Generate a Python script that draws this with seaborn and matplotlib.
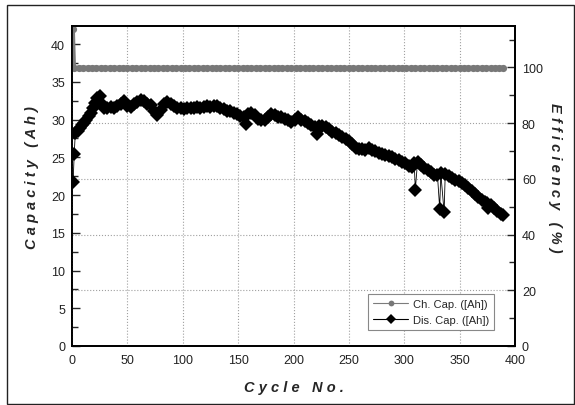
import matplotlib
matplotlib.use("Agg")
import matplotlib.pyplot as plt
from matplotlib.ticker import MultipleLocator
from matplotlib.patches import Rectangle
import seaborn as sns
import pandas as pd

# ---------------- data ----------------
dis_cycles = [1, 2, 3, 5, 7, 9, 11, 13, 15, 17, 19, 21, 23, 25, 27, 29, 32, 35, 38, 41,
              44, 47, 50, 53, 56, 59, 62, 65, 68, 71, 74, 77, 80, 83, 86, 89, 92, 95, 98, 101,
              104, 107, 110, 113, 116, 119, 122, 125, 128, 131, 134, 137, 140, 143, 146, 149, 152, 155, 157, 159,
              162, 165, 168, 171, 174, 177, 180, 183, 186, 189, 192, 195, 198, 201, 204, 207, 210, 213, 216, 219,
              221, 223, 226, 229, 232, 235, 238, 241, 244, 247, 250, 253, 256, 259, 262, 265, 268, 271, 274, 277,
              280, 283, 286, 289, 292, 295, 298, 301, 304, 307, 309, 310, 312, 315, 318, 321, 324, 327, 330, 332,
              333, 336, 337, 340, 343, 346, 349, 352, 355, 358, 361, 364, 367, 370, 373, 375, 376, 378, 381, 384,
              387, 389]
dis_cap = [21.7, 25.5, 28.2, 28.5, 28.9, 29.3, 29.6, 30.0, 30.5, 30.9, 31.5, 32.2, 32.8, 33.1, 32.0, 31.6, 31.5, 31.7, 31.5, 31.8,
           32.1, 32.4, 31.8, 31.7, 32.0, 32.3, 32.6, 32.4, 32.0, 31.9, 31.1, 30.6, 31.3, 32.0, 32.3, 32.0, 31.8, 31.6, 31.5, 31.4,
           31.5, 31.6, 31.6, 31.7, 31.6, 31.7, 31.8, 31.7, 31.8, 31.8, 31.6, 31.4, 31.2, 31.1, 30.9, 30.7, 30.5, 30.4, 29.4, 30.7,
           30.9, 30.6, 30.1, 29.9, 29.9, 30.3, 30.8, 30.6, 30.4, 30.3, 30.1, 29.9, 29.7, 29.9, 30.3, 30.0, 29.8, 29.6, 29.3, 29.0,
           28.1, 29.2, 29.2, 29.0, 28.7, 28.4, 28.2, 27.9, 27.7, 27.4, 27.1, 26.7, 26.3, 26.1, 26.1, 26.0, 26.2, 26.0, 25.8, 25.6,
           25.5, 25.3, 25.2, 25.0, 24.8, 24.6, 24.4, 24.2, 23.8, 23.7, 24.2, 20.7, 24.4, 24.0, 23.6, 23.3, 23.1, 22.7, 22.6, 18.2,
           22.9, 17.7, 22.8, 22.5, 22.2, 22.0, 21.8, 21.6, 21.3, 20.9, 20.6, 20.2, 19.8, 19.4, 19.1, 18.9, 18.3, 18.7, 18.3, 17.9,
           17.5, 17.3]

ch_cycles = [1, 2, 6, 10, 14, 18, 22, 26, 30, 34, 38, 42, 46, 50, 54, 58, 62, 66, 70, 74,
             78, 82, 86, 90, 94, 98, 102, 106, 110, 114, 118, 122, 126, 130, 134, 138, 142, 146, 150, 154,
             158, 162, 166, 170, 174, 178, 182, 186, 190, 194, 198, 202, 206, 210, 214, 218, 222, 226, 230, 234,
             238, 242, 246, 250, 254, 258, 262, 266, 270, 274, 278, 282, 286, 290, 294, 298, 302, 306, 310, 314,
             318, 322, 326, 330, 334, 338, 342, 346, 350, 354, 358, 362, 366, 370, 374, 378, 382, 386, 389]
ch_cap = [42.0, 36.9, 36.9, 36.9, 36.9, 36.9, 36.9, 36.9, 36.9, 36.9, 36.9, 36.9, 36.9, 36.9, 36.9, 36.9, 36.9, 36.9, 36.9, 36.9,
          36.9, 36.9, 36.9, 36.9, 36.9, 36.9, 36.9, 36.9, 36.9, 36.9, 36.9, 36.9, 36.9, 36.9, 36.9, 36.9, 36.9, 36.9, 36.9, 36.9,
          36.9, 36.9, 36.9, 36.9, 36.9, 36.9, 36.9, 36.9, 36.9, 36.9, 36.9, 36.9, 36.9, 36.9, 36.9, 36.9, 36.9, 36.9, 36.9, 36.9,
          36.9, 36.9, 36.9, 36.9, 36.9, 36.9, 36.9, 36.9, 36.9, 36.9, 36.9, 36.9, 36.9, 36.9, 36.9, 36.9, 36.9, 36.9, 36.9, 36.9,
          36.9, 36.9, 36.9, 36.9, 36.9, 36.9, 36.9, 36.9, 36.9, 36.9, 36.9, 36.9, 36.9, 36.9, 36.9, 36.9, 36.9, 36.9, 36.9]

x_ticks = [0, 50, 100, 150, 200, 250, 300, 350, 400]
left_ticks = [0, 5, 10, 15, 20, 25, 30, 35, 40]
right_ticks = [0, 20, 40, 60, 80, 100]

# ---------------- style ----------------
sns.set_style("white")
plt.rcParams["font.family"] = ["Liberation Sans", "DejaVu Sans"]

W, H = 575, 406
fig = plt.figure(figsize=(W / 100, H / 100), dpi=100)
ax_l, ax_r, ax_t, ax_b = 72, 515, 27, 347
ax = fig.add_axes([ax_l / W, 1 - ax_b / H, (ax_r - ax_l) / W, (ax_b - ax_t) / H])
ax2 = ax.twinx()
ax.set_zorder(ax2.get_zorder() + 1)
ax.patch.set_visible(False)

df_ch = pd.DataFrame({"cycle": ch_cycles, "cap": ch_cap})
df_dis = pd.DataFrame({"cycle": dis_cycles, "cap": dis_cap})

sns.lineplot(data=df_ch, x="cycle", y="cap", ax=ax, color="#7c7c7c", lw=2.6,
             marker="o", markersize=5.2, markeredgewidth=0, markerfacecolor="#787878",
             estimator=None, sort=False, label="Ch. Cap. ([Ah])")
sns.lineplot(data=df_dis, x="cycle", y="cap", ax=ax, color="#000000", lw=0.6,
             marker="D", markersize=6.8, markeredgewidth=0, markerfacecolor="black",
             estimator=None, sort=False, label="Dis. Cap. ([Ah])")

ax.set_xlim(0, 400)
ax.set_ylim(0, 42.4)
ax2.set_ylim(0, 114.9)

ax.set_xticks(x_ticks)
ax.set_yticks(left_ticks)
ax2.set_yticks(right_ticks)
ax.xaxis.set_minor_locator(MultipleLocator(25))
ax.yaxis.set_minor_locator(MultipleLocator(2.5))
ax2.yaxis.set_minor_locator(MultipleLocator(10))

ax.tick_params(axis="x", which="major", direction="in", length=4, width=1, labelsize=9, pad=6, top=False)
ax.tick_params(axis="x", which="minor", direction="in", length=3, width=1, top=False)
ax.tick_params(axis="y", which="major", direction="in", length=6, width=1, labelsize=9, pad=5, right=False)
ax.tick_params(axis="y", which="minor", direction="in", length=4, width=1, right=False)
ax2.tick_params(axis="y", which="major", direction="in", length=6, width=1, labelsize=9, pad=5)
ax2.tick_params(axis="y", which="minor", direction="in", length=4, width=1)
for a in (ax, ax2):
    for lbl in a.get_xticklabels() + a.get_yticklabels():
        lbl.set_color("#222222")

ax.xaxis.grid(True, which="major", ls=":", color="#a0a0a0", lw=0.8)
ax.yaxis.grid(False)
ax2.yaxis.grid(True, which="major", ls=":", color="#a0a0a0", lw=0.8)
ax2.xaxis.grid(False)

for a in (ax, ax2):
    for s in a.spines.values():
        s.set_color("black")
        s.set_linewidth(1.3)
        s.set_visible(True)

lab_font = dict(fontsize=10.5, fontweight="bold", fontstyle="italic")
ax.set_xlabel("C y c l e   N o .", labelpad=10, **lab_font)
ax.set_ylabel("C a p a c i t y   ( A h )", labelpad=14, **lab_font)
ax2.set_ylabel("E f f i c i e n c y   ( % )", rotation=270, labelpad=22, **lab_font)
ax.yaxis.set_label_coords(-0.075, 0.53)
ax2.yaxis.set_label_coords(1.105, 0.53)

leg = ax.legend(loc="lower left", bbox_to_anchor=(0.668, 0.05), borderaxespad=0,
                fontsize=8, frameon=True, fancybox=False, edgecolor="#888888",
                handlelength=3.2, handletextpad=0.4, borderpad=0.45, labelspacing=0.55,
                framealpha=1, markerscale=0.8)
leg.get_frame().set_linewidth(0.8)
for h in leg.get_lines():
    h.set_linewidth(0.8)

# outer frame
fig.add_artist(Rectangle((7 / W, 1 - 405 / H), (574 - 7) / W, (405 - 6) / H,
                         transform=fig.transFigure, fill=False, edgecolor="#222222", lw=1.0))

fig.savefig("out.png", dpi=100)
